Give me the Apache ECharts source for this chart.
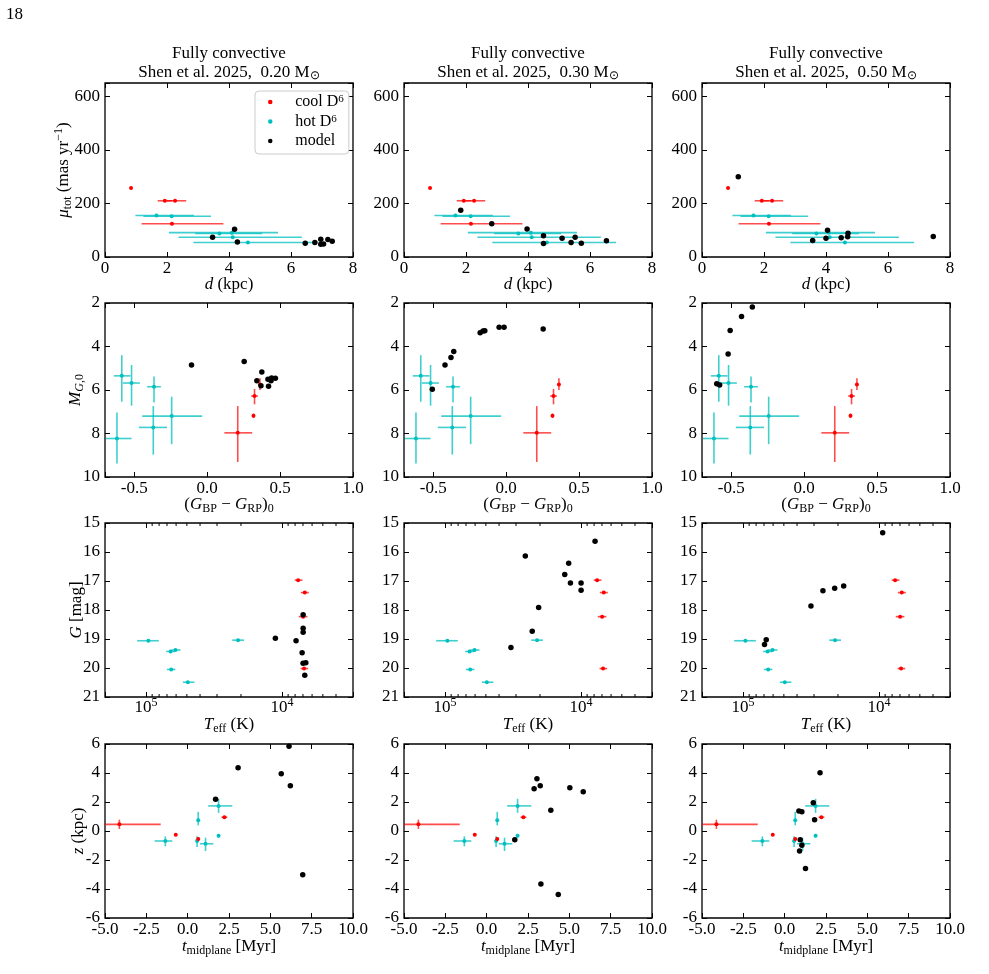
<!DOCTYPE html>
<html>
<head>
<meta charset="utf-8">
<script src="https://cdn.jsdelivr.net/npm/echarts@6/dist/echarts.min.js"></script>
<style>
html, body { margin: 0; padding: 0; background: #fff; }
#main { width: 989px; height: 974px; }
</style>
</head>
<body>
<div id="main"></div>
<script>
// ---- data ----
var masses = ['0.20', '0.30', '0.50'];

// observed D6 stars (same in every column): [x, y, xlo, xhi, (ylo, yhi)]
var coolPm = [[0.84, 258, 0.80, 0.88], [1.93, 210, 1.70, 2.17], [2.26, 210, 2.00, 2.62], [2.16, 124, 1.18, 3.82]];
var hotPm = [[1.66, 155, 0.98, 2.87], [2.15, 152, 1.24, 3.42], [3.69, 88, 2.91, 5.07], [4.09, 91, 2.06, 5.58], [4.12, 74, 2.37, 6.35], [4.61, 54, 2.85, 6.84]];

var coolCmd = [[0.21, 7.97, 0.118, 0.309, 6.74, 9.31], [0.325, 6.28, 0.302, 0.348, 5.95, 6.66], [0.362, 5.75, 0.355, 0.369, 5.46, 6.0], [0.318, 7.18, 0.312, 0.324, 7.08, 7.29]];
var hotCmd = [[-0.585, 5.35, -0.64, -0.525, 4.4, 6.54], [-0.518, 5.68, -0.578, -0.461, 4.85, 6.72], [-0.364, 5.85, -0.411, -0.317, 5.38, 6.58],
              [-0.618, 8.23, -0.693, -0.518, 7.03, 9.38], [-0.369, 7.72, -0.468, -0.275, 6.74, 8.97], [-0.243, 7.2, -0.445, -0.034, 6.31, 8.49]];

var coolTeff = [[7600, 16.97, 7060, 8050], [6790, 17.40, 6340, 7260], [6980, 18.23, 6490, 7520], [6870, 20.02, 6410, 7290]];
var hotTeff = [[95900, 19.06, 80400, 116000], [65900, 19.43, 61000, 71000], [60600, 19.38, 55700, 65300],
               [65200, 20.05, 60700, 70200], [49200, 20.49, 44000, 53500], [21000, 19.04, 19000, 23200]];

var coolTz = [[-4.13, 0.46, -6.5, -1.63, 0.14, 0.78], [-0.72, -0.25, -0.74, -0.70, -0.3, -0.2], [0.64, -0.55, 0.6, 0.68, -0.7, -0.45], [2.22, 0.95, 2.05, 2.4, 0.88, 1.02]];
var hotTz = [[-1.35, -0.69, -2.0, -0.93, -1.06, -0.37], [0.64, 0.74, 0.6, 0.68, 0.39, 1.32], [0.57, -0.69, 0.52, 0.62, -1.11, -0.37],
             [1.08, -0.88, 0.74, 1.55, -1.38, -0.46], [1.87, -0.32, 1.82, 1.92, -0.45, -0.2], [1.87, 1.73, 1.24, 2.70, 1.25, 2.22]];

// model points for 0.20, 0.30, 0.50 Msun
var modelPm020 = [[4.18, 104], [3.47, 74], [4.27, 56], [6.46, 51], [6.77, 54], [6.96, 66], [6.96, 48], [7.05, 49], [7.19, 65], [7.33, 59]];
var modelPm030 = [[1.83, 175], [2.83, 124], [3.97, 105], [4.50, 79], [4.50, 50], [5.10, 70], [5.52, 74], [5.39, 54], [5.72, 51], [6.53, 61]];
var modelPm050 = [[1.17, 300], [3.57, 62], [4.00, 70], [4.05, 100], [4.49, 72], [4.70, 76], [4.71, 89], [7.46, 77]];

var modelCmd020 = [[-0.107, 4.85], [0.254, 4.69], [0.375, 5.17], [0.341, 5.58], [0.369, 5.8], [0.417, 5.51], [0.421, 5.83], [0.442, 5.45], [0.438, 5.57], [0.468, 5.46]];
var modelCmd030 = [[-0.506, 5.97], [-0.419, 4.85], [-0.378, 4.51], [-0.359, 4.23], [-0.178, 3.37], [-0.158, 3.29], [-0.146, 3.28], [-0.048, 3.12], [-0.014, 3.12], [0.254, 3.2]];
var modelCmd050 = [[-0.355, 2.18], [-0.429, 2.62], [-0.507, 3.26], [-0.521, 4.35], [-0.599, 5.71], [-0.579, 5.77]];

var modelTeff020 = [[11170, 18.97], [7870, 19.06], [6980, 18.16], [6980, 18.63], [6980, 18.77], [7100, 19.47], [6990, 19.84], [6670, 19.82], [6790, 20.25]];
var modelTeff030 = [[25640, 16.14], [7870, 15.63], [12300, 16.39], [13150, 16.78], [11940, 17.07], [9970, 17.07], [9970, 17.32], [20460, 17.91], [22800, 18.73], [32700, 19.29]];
var modelTeff050 = [[9380, 15.34], [18160, 17.17], [21150, 17.25], [25800, 17.34], [31600, 17.86], [67400, 19.03], [69400, 19.19]];

var modelTz020 = [[1.69, 2.19], [3.05, 4.36], [5.66, 3.95], [6.13, 5.84], [6.21, 3.12], [6.96, -3.02]];
var modelTz030 = [[1.70, -0.6], [2.87, 2.91], [3.04, 3.6], [3.24, 3.12], [3.88, 1.43], [3.28, -3.65], [4.33, -4.38], [5.03, 2.98], [5.84, 2.70]];
var modelTz050 = [[2.14, 4.02], [1.73, 1.94], [0.86, 1.38], [1.04, 1.32], [1.81, 0.78], [0.94, -0.6], [1.04, -0.99], [0.90, -1.38], [1.26, -2.58]];

// minor ticks of the log Teff axis
var teffMinor = [20000, 30000, 40000, 50000, 60000, 70000, 80000, 90000, 4000, 5000, 6000, 7000, 8000, 9000];

// ---- layout ----
var FONT = 'Liberation Serif';
var FS = 17;
var colLeft = [105, 404, 702];
var rowTop = [83, 303, 523, 744];
var W = 248, H = 174;
var RED = '#ff0000', CYAN = '#00bfbf';
var RED_E = 'rgba(255,0,0,0.7)', CYAN_E = 'rgba(0,191,191,0.75)';

var RICH = {
    r: { fontFamily: FONT, fontSize: FS, lineHeight: 21, verticalAlign: 'middle', color: '#000' },
    i: { fontFamily: FONT, fontSize: FS, fontStyle: 'italic', lineHeight: 21, verticalAlign: 'middle', color: '#000' },
    b: { fontFamily: FONT, fontSize: 12, lineHeight: 13, verticalAlign: 'bottom', color: '#000' },
    bi: { fontFamily: FONT, fontSize: 12, fontStyle: 'italic', lineHeight: 13, verticalAlign: 'bottom', color: '#000' },
    p: { fontFamily: FONT, fontSize: 12, lineHeight: 13, verticalAlign: 'top', color: '#000' },
    lr: { fontFamily: FONT, fontSize: 16, lineHeight: 16, verticalAlign: 'middle', color: '#000' },
    lp: { fontFamily: FONT, fontSize: 11, lineHeight: 10, verticalAlign: 'top', color: '#000' }
};

var rows = [
    { x: { min: 0, max: 8, interval: 2, fmt: function (v) { return String(v); }, margin: 3, gap: 17 },
      y: { min: 0, max: 650, interval: 200, gap: 31, fmt: function (v) { return v % 200 === 0 ? String(v) : ''; } },
      xName: '{i|d}{r| (kpc)}', yName: '{i|μ}{b|tot}{r| (mas yr}{p|−1}{r|)}',
      cool: coolPm, hot: hotPm, model: [modelPm020, modelPm030, modelPm050] },
    { x: { min: -0.7, max: 1.0, splitNumber: 3, margin: 3, gap: 17,
           fmt: function (v) { return Math.abs(v * 2 - Math.round(v * 2)) < 1e-6 ? (Math.round(v * 10) / 10).toFixed(1) : ''; } },
      y: { min: 2, max: 10, interval: 2, inverse: true, gap: 19, fmt: function (v) { return String(v); } },
      xName: '{r|(}{i|G}{b|BP}{r| − }{i|G}{b|RP}{r|)}{b|0}', yName: '{i|M}{bi|G}{b|,0}',
      cool: coolCmd, hot: hotCmd, model: [modelCmd020, modelCmd030, modelCmd050] },
    { x: { type: 'log', min: 3000, max: 200000, inverse: true, margin: 0, gap: 17,
           fmt: function (v) { var l = Math.log(v) / Math.LN10; return Math.abs(l - Math.round(l)) < 1e-6 ? '{r|10}{p|' + Math.round(l) + '}' : ''; } },
      y: { min: 15, max: 21, interval: 1, inverse: true, gap: 18, fmt: function (v) { return String(v); } },
      xName: '{i|T}{b|eff}{r| (K)}', yName: '{i|G}{r| [mag]}',
      cool: coolTeff, hot: hotTeff, model: [modelTeff020, modelTeff030, modelTeff050], minor: true },
    { x: { min: -5, max: 10, interval: 2.5, fmt: function (v) { return v.toFixed(1); }, margin: 3, gap: 18 },
      y: { min: -6, max: 6, interval: 2, gap: 16, fmt: function (v) { return String(v); } },
      xName: '{i|t}{b|midplane}{r| [Myr]}', yName: '{i|z}{r| (kpc)}',
      cool: coolTz, hot: hotTz, model: [modelTz020, modelTz030, modelTz050] }
];

function makeAxis(spec, g, pos, labels, name, isX) {
    var a = {
        gridIndex: g,
        type: spec.type || 'value',
        position: pos,
        min: spec.min,
        max: spec.max,
        inverse: !!spec.inverse,
        axisLine: { show: false, onZero: false },
        axisTick: { show: true, inside: true, length: 5, lineStyle: { color: '#000', width: 1 } },
        splitLine: { show: false },
        axisLabel: {
            show: labels,
            margin: isX ? spec.margin : 5,
            color: '#000',
            fontFamily: FONT,
            fontSize: FS,
            formatter: spec.fmt,
            rich: RICH
        },
        name: name || '',
        nameLocation: 'middle',
        nameGap: spec.gap,
        nameMoveOverlap: false,
        nameTextStyle: { fontFamily: FONT, fontSize: FS, color: '#000', rich: RICH }
    };
    if (spec.interval) a.interval = spec.interval;
    if (spec.splitNumber) a.splitNumber = spec.splitNumber;
    if (spec.type === 'log') a.logBase = 10;
    return a;
}

function errRender(color) {
    return function (params, api) {
        var x = api.value(0), y = api.value(1);
        var a = api.coord([api.value(2), y]);
        var b = api.coord([api.value(3), y]);
        var kids = [{ type: 'line', shape: { x1: a[0], y1: a[1], x2: b[0], y2: b[1] }, style: { stroke: color, lineWidth: 1.6 } }];
        var ylo = api.value(4), yhi = api.value(5);
        if (ylo === ylo && yhi === yhi && ylo != null && yhi != null) {
            var c = api.coord([x, ylo]);
            var d = api.coord([x, yhi]);
            kids.push({ type: 'line', shape: { x1: c[0], y1: c[1], x2: d[0], y2: d[1] }, style: { stroke: color, lineWidth: 1.6 } });
        }
        return { type: 'group', children: kids };
    };
}

function minorRender(params, api) {
    var b = api.coord([api.value(0), 21]);
    var t = api.coord([api.value(0), 15]);
    return { type: 'group', children: [
        { type: 'line', shape: { x1: b[0], y1: b[1], x2: b[0], y2: b[1] - 3 }, style: { stroke: '#000', lineWidth: 1 } },
        { type: 'line', shape: { x1: t[0], y1: t[1], x2: t[0], y2: t[1] + 3 }, style: { stroke: '#000', lineWidth: 1 } }
    ] };
}

var grids = [], xAxes = [], yAxes = [], series = [];
for (var r = 0; r < 4; r++) {
    for (var c = 0; c < 3; c++) {
        var g = grids.length;
        var row = rows[r];
        grids.push({ left: colLeft[c], top: rowTop[r], width: W, height: H, show: true,
                     borderColor: '#000', borderWidth: 1.3, backgroundColor: 'transparent' });
        xAxes.push(makeAxis(row.x, g, 'bottom', true, row.xName, true));
        xAxes.push(makeAxis(row.x, g, 'top', false, '', true));
        yAxes.push(makeAxis(row.y, g, 'left', true, c === 0 ? row.yName : '', false));
        yAxes.push(makeAxis(row.y, g, 'right', false, '', false));
        var xi = 2 * g, yi = 2 * g;

        if (row.minor) {
            series.push({ type: 'custom', name: 'minor', xAxisIndex: xi, yAxisIndex: yi, silent: true,
                          data: teffMinor.map(function (v) { return [v, 18]; }), renderItem: minorRender });
        }
        series.push({ type: 'custom', name: 'hotErr', xAxisIndex: xi, yAxisIndex: yi, silent: true, clip: true,
                      data: row.hot, renderItem: errRender(CYAN_E) });
        series.push({ type: 'custom', name: 'coolErr', xAxisIndex: xi, yAxisIndex: yi, silent: true, clip: true,
                      data: row.cool, renderItem: errRender(RED_E) });
        series.push({ type: 'scatter', name: 'hot', xAxisIndex: xi, yAxisIndex: yi, symbolSize: 4,
                      itemStyle: { color: CYAN, opacity: 1 }, data: row.hot.map(function (p) { return [p[0], p[1]]; }) });
        series.push({ type: 'scatter', name: 'cool', xAxisIndex: xi, yAxisIndex: yi, symbolSize: 4,
                      itemStyle: { color: RED, opacity: 1 }, data: row.cool.map(function (p) { return [p[0], p[1]]; }) });
        series.push({ type: 'scatter', name: 'model', xAxisIndex: xi, yAxisIndex: yi, symbolSize: 5.5,
                      itemStyle: { color: '#000', opacity: 1 }, data: row.model[c] });
    }
}

var legendText = { cool: '{lr|cool D}{lp|6}', hot: '{lr|hot D}{lp|6}', model: '{lr|model}' };

var titles = masses.map(function (m, c) {
    return {
        text: '{r|Fully convective}\n{r|Shen et al. 2025,  ' + m + ' M}{s|⊙}',
        left: colLeft[c] + W / 2,
        top: 44,
        padding: 0,
        textAlign: 'center',
        textStyle: { fontFamily: FONT, fontSize: FS, fontWeight: 'normal', color: '#000', lineHeight: 19, rich: {
            r: { fontFamily: FONT, fontSize: FS, lineHeight: 19, verticalAlign: 'middle', color: '#000' },
            s: { fontFamily: FONT, fontSize: 12, lineHeight: 11, verticalAlign: 'bottom', color: '#000' }
        } }
    };
});

var chart = echarts.init(document.getElementById('main'));
chart.setOption({
    backgroundColor: '#fff',
    animation: false,
    title: titles,
    legend: {
        left: 255, top: 91, orient: 'vertical',
        padding: [3, 5, 5, 13], itemGap: 3.5, itemWidth: 10, itemHeight: 4.5,
        borderColor: '#cccccc', borderWidth: 1, borderRadius: 4, backgroundColor: '#fff',
        selectedMode: false,
        data: [{ name: 'cool', icon: 'circle' }, { name: 'hot', icon: 'circle' }, { name: 'model', icon: 'circle' }],
        formatter: function (n) { return legendText[n]; },
        textStyle: { fontFamily: FONT, fontSize: 16, color: '#000', lineHeight: 16, padding: [0, 0, 0, 15], rich: RICH }
    },
    graphic: [{ type: 'text', left: 6, top: 6, style: { text: '18', font: '17px "Liberation Serif"', fill: '#000' } }],
    grid: grids,
    xAxis: xAxes,
    yAxis: yAxes,
    series: series
});
</script>
</body>
</html>
